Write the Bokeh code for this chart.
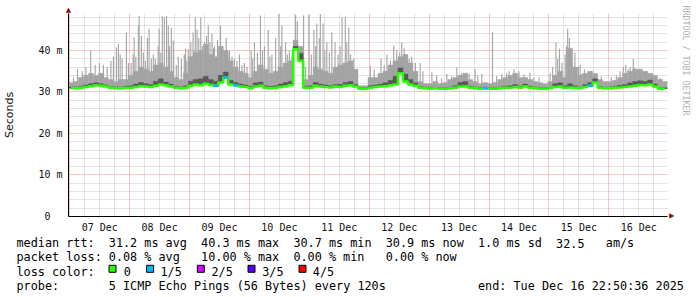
from bokeh.plotting import figure
from bokeh.models import Range1d, FixedTicker, Grid, Title
from bokeh.layouts import column
from bokeh.embed import file_html
from bokeh.resources import INLINE
from bokeh.core.properties import value

# ---------------- data (hours since 07 Dec 00:00, values in ms) ----------------
day_labels = ["07 Dec", "08 Dec", "09 Dec", "10 Dec", "11 Dec",
              "12 Dec", "13 Dec", "14 Dec", "15 Dec", "16 Dec"]
label_hours = [12, 36, 60, 84, 108, 132, 156, 180, 204, 228]
midnight_hours = [0, 24, 48, 72, 96, 120, 144, 168, 192, 216]

# 2-hour bins, bin centre = 2*j + 0.5
median_ms = [
    30.9, 30.9, 31.0, 31.2, 31.4, 31.6, 31.5, 31.3, 31.0, 30.9, 30.9, 31.0,   # 07 Dec
    31.0, 31.2, 31.4, 31.3, 31.2, 31.5, 31.8, 31.6, 31.3, 31.0, 30.9, 31.0,   # 08 Dec
    31.5, 31.8, 31.6, 32.0, 31.7, 31.5, 32.3, 33.5, 31.8, 31.6, 31.3, 31.2,   # 09 Dec
    30.9, 31.3, 31.5, 31.0, 30.9, 31.0, 31.2, 31.4, 31.6, 40.3, 37.5, 31.0,   # 10 Dec
    31.0, 31.5, 31.3, 31.2, 31.1, 31.3, 31.2, 31.5, 31.6, 31.3, 30.8, 30.8,   # 11 Dec
    31.0, 31.2, 31.3, 31.4, 31.6, 31.8, 34.5, 32.5, 31.8, 31.5, 31.0, 30.9,   # 12 Dec
    30.8, 30.9, 30.8, 30.8, 30.9, 31.0, 31.3, 31.4, 31.0, 30.9, 30.8, 30.9,   # 13 Dec
    30.8, 30.8, 30.9, 31.0, 31.0, 31.2, 31.0, 31.3, 31.0, 30.9, 30.8, 30.8,   # 14 Dec
    30.9, 31.2, 31.3, 31.0, 31.1, 31.0, 30.9, 31.2, 31.5, 32.3, 31.0, 30.9,   # 15 Dec
    30.9, 31.0, 31.1, 31.2, 31.3, 31.5, 31.7, 31.6, 31.8, 31.3, 30.8, 30.8,   # 16 Dec
]
smoke_dark_top = [
    31.2, 31.2, 31.4, 31.7, 32.0, 32.2, 32.0, 31.7, 31.3, 31.2, 31.2, 31.4,
    31.5, 31.9, 32.3, 32.0, 31.8, 32.6, 33.2, 32.4, 31.9, 31.4, 31.2, 31.5,
    32.6, 33.0, 33.2, 33.8, 33.0, 32.6, 34.0, 34.8, 32.8, 32.3, 31.9, 31.7,
    31.3, 32.2, 32.4, 31.5, 31.3, 31.5, 31.9, 32.3, 32.6, 41.0, 39.3, 31.4,
    31.5, 32.3, 31.9, 31.7, 31.5, 31.8, 31.8, 32.3, 32.5, 31.8, 31.0, 31.0,
    31.5, 31.7, 31.9, 32.2, 32.8, 33.8, 35.8, 34.3, 33.0, 32.2, 31.3, 31.2,
    31.0, 31.1, 31.0, 31.0, 31.2, 31.5, 32.3, 32.5, 31.4, 31.2, 31.0, 31.1,
    31.0, 31.0, 31.2, 31.4, 31.5, 31.8, 31.4, 31.9, 31.4, 31.2, 31.0, 31.0,
    31.1, 32.0, 32.2, 31.5, 32.0, 31.5, 31.2, 31.8, 32.3, 33.2, 31.3, 31.1,
    31.2, 31.4, 31.6, 31.8, 32.2, 32.5, 32.7, 32.5, 32.9, 31.9, 31.0, 31.0,
]
smoke_light_top = [
    32.3, 32.5, 33.5, 34.0, 34.5, 34.0, 34.5, 33.5, 33.0, 32.5, 33.0, 33.0,
    34.0, 35.0, 36.0, 35.5, 35.0, 36.5, 37.0, 36.0, 35.0, 33.5, 33.0, 34.5,
    38.5, 39.5, 40.0, 41.5, 39.0, 38.5, 41.0, 40.0, 37.5, 36.0, 35.0, 34.5,
    33.5, 35.0, 36.5, 35.5, 34.5, 35.0, 36.0, 37.0, 37.5, 42.5, 41.0, 33.0,
    34.0, 36.0, 35.5, 35.0, 34.5, 36.0, 36.5, 37.0, 37.5, 35.5, 31.5, 31.5,
    33.5, 33.5, 34.5, 35.0, 36.5, 37.5, 38.5, 39.0, 37.0, 35.0, 32.5, 32.0,
    32.0, 32.5, 32.0, 32.3, 33.0, 33.5, 34.0, 34.5, 33.0, 32.5, 32.0, 32.3,
    32.0, 32.3, 33.0, 33.5, 34.0, 34.5, 33.5, 33.5, 33.0, 32.5, 32.3, 32.0,
    32.5, 34.0, 35.0, 33.5, 40.5, 36.0, 34.0, 34.5, 35.0, 34.5, 33.0, 32.5,
    32.5, 32.8, 33.5, 34.5, 35.0, 35.5, 35.5, 35.0, 34.5, 34.0, 33.0, 32.5,
]
loss_count = [0] * 120          # lost pings out of 5, per bin
for j in (29, 31, 33, 83, 104):
    loss_count[j] = 1

# tall single-ping outliers
spike_hours = [
    3.1, 8.4, 11.9, 15.0, 18.7, 19.5, 21.0, 22.7,
    25.4, 25.8, 27.5, 27.8, 28.7, 31.1, 31.8, 32.7, 35.4, 35.8, 37.1, 37.9, 38.8, 39.5, 40.7, 41.5, 42.7, 44.7, 45.9, 46.4, 47.5,
    49.4, 50.3, 51.0, 52.5, 54.0, 55.5, 57.0, 58.0, 60.4, 62.7, 64.0, 66.0, 68.0, 70.0,
    72.7, 74.0, 76.4, 78.0, 79.5, 81.0, 82.5, 83.8, 85.0, 86.5, 88.0, 90.5, 91.2, 93.7, 95.8,
    97.8, 99.0, 100.4, 101.5, 103.0, 105.0, 106.3, 109.1, 110.4, 111.8, 113.8,
    120.4, 124.7, 127.1, 129.8, 131.0, 133.0, 135.0, 137.0, 140.4,
    145.1, 147.0, 151.1, 155.1, 159.0, 160.0, 162.4, 165.1,
    169.4, 173.1, 176.0, 178.0, 184.4, 186.0,
    193.5, 194.8, 196.2, 199.5, 200.2, 201.1, 202.4, 203.8, 205.1, 207.0,
    221.8, 223.8, 225.8, 227.0, 229.0, 230.4, 232.5, 235.0,
]
spike_ms = [
    35.5, 40.0, 37.0, 36.0, 40.7, 41.5, 38.0, 44.3,
    39.0, 43.2, 46.0, 48.3, 43.5, 43.0, 45.2, 38.0, 41.0, 45.2, 48.3, 48.0, 48.3, 46.0, 45.5, 42.4, 36.5, 38.0, 39.0, 40.4, 40.3,
    44.3, 48.0, 45.0, 48.0, 42.0, 46.0, 44.0, 41.0, 46.0, 43.0, 40.0, 38.0, 39.0, 37.0,
    40.0, 42.0, 48.4, 41.0, 45.0, 39.0, 43.0, 48.8, 46.0, 42.0, 40.0, 48.6, 47.0, 48.5, 48.6,
    45.0, 46.5, 48.8, 46.5, 42.0, 44.4, 42.0, 48.0, 48.0, 45.5, 38.0,
    36.3, 38.0, 39.0, 41.2, 40.0, 42.0, 39.0, 38.5, 37.0,
    34.7, 34.0, 34.3, 35.9, 34.5, 34.3, 35.5, 34.3,
    44.4, 34.3, 35.0, 35.5, 34.7, 33.5,
    36.0, 42.0, 40.4, 45.2, 43.0, 38.8, 39.5, 36.0, 34.3, 34.5,
    36.0, 35.5, 38.0, 35.0, 34.0, 34.7, 34.2, 33.3,
]
# shorter hairs on top of the smoke
hair_hours = [
    1.5, 5.0, 6.5, 10.2, 13.5, 16.5, 17.5, 20.2, 23.5,
    24.6, 26.5, 29.5, 30.3, 33.5, 34.3, 36.5, 40.0, 43.5, 46.9,
    48.5, 49.8, 51.7, 53.2, 54.8, 56.2, 57.6, 59.2, 61.2, 63.4, 65.0, 67.0, 69.0, 71.0,
    73.3, 75.2, 77.2, 80.2, 84.5, 87.2, 89.0, 94.5,
    96.8, 98.5, 100.0, 102.2, 104.0, 107.5, 108.3, 111.0, 112.5,
    122.0, 126.0, 128.5, 132.2, 134.0, 136.0, 138.5, 141.5,
    149.0, 153.0, 157.0, 163.5, 171.0, 175.0, 180.0, 182.0, 188.0,
    192.5, 195.5, 197.2, 198.5, 199.0, 200.8, 204.5, 206.2, 209.0, 211.0, 213.0,
    217.0, 219.0, 220.5, 222.8, 224.6, 226.4, 228.2, 231.2, 233.5, 236.5,
]
hair_ms = [
    33.5, 35.0, 36.0, 36.5, 36.5, 37.5, 38.5, 39.0, 37.0,
    37.0, 38.5, 39.5, 37.5, 39.0, 38.0, 39.5, 41.0, 38.5, 37.5,
    42.0, 40.0, 43.0, 41.0, 43.5, 42.0, 40.5, 42.5, 41.0, 39.0, 38.5, 37.5, 36.5, 36.0,
    38.0, 39.5, 40.0, 38.5, 41.0, 39.0, 38.5, 36.0,
    39.0, 41.0, 43.0, 40.0, 39.5, 39.0, 41.0, 42.0, 39.0,
    35.5, 36.5, 37.5, 39.5, 40.5, 38.0, 37.0, 35.0,
    33.3, 33.8, 34.5, 34.0, 33.8, 34.5, 35.0, 34.2, 33.5,
    34.5, 38.0, 37.0, 39.0, 41.0, 40.0, 36.5, 35.5, 35.0, 34.0, 33.8,
    33.5, 34.0, 35.0, 36.5, 36.0, 35.8, 35.5, 35.0, 34.5, 33.5,
]

y_ticks = [0, 10, 20, 30, 40]
y_tick_labels = ["0\u00a0\u00a0", "10 m", "20 m", "30 m", "40 m"]

loss_names = ["0", "1/5", "2/5", "3/5", "4/5"]
loss_colors = ["#26ff00", "#00b8ff", "#dd00ff", "#5500ff", "#ff0000"]

rtt_title = "median rtt:"
rtt_items = ["31.2 ms avg", "40.3 ms max", "30.7 ms min", "30.9 ms now", "1.0 ms sd", "32.5", "am/s"]
loss_title = "packet loss:"
loss_items = ["0.08 % avg", "10.00 % max", "0.00 % min", "0.00 % now"]
color_title = "loss color:"
probe_title = "probe:"
probe_text = "5 ICMP Echo Pings (56 Bytes) every 120s"
end_text = "end: Tue Dec 16 22:50:36 2025"
watermark = "RRDTOOL / TOBI OETIKER"

# ---------------- layout constants ----------------
X0, X1 = -0.5, 239.5
Y0, Y1 = 0.0, 48.9
MONO = "DejaVu Sans Mono"
LIGHT = "#a4a4a4"
DARK = "#585858"
ARROW = "#8b1010"

bin_centre = [2 * j + 0.5 for j in range(len(median_ms))]
bin_left = [c - 1 for c in bin_centre]
bin_right = [c + 1 for c in bin_centre]


def base_of(hours):
    return [median_ms[min(int((h + 0.5) // 2), 119)] for h in hours]


p = figure(width=697, height=236, x_range=Range1d(X0, X1), y_range=Range1d(Y0, Y1),
           output_backend="svg", toolbar_location=None,
           min_border_left=67, min_border_right=30, min_border_top=13, min_border_bottom=20,
           outline_line_color=None, background_fill_color="white", border_fill_color="white")
p.frame_align = False

# smoke
p.quad(left=bin_left, right=bin_right, bottom=median_ms, top=smoke_light_top,
       fill_color=LIGHT, line_color=LIGHT, line_width=0.4)
p.vbar(x=spike_hours, width=0.45, bottom=base_of(spike_hours), top=spike_ms,
       fill_color=LIGHT, line_color=None)
p.vbar(x=hair_hours, width=0.45, bottom=base_of(hair_hours), top=hair_ms,
       fill_color=LIGHT, line_color=None)
p.quad(left=bin_left, right=bin_right, bottom=median_ms, top=smoke_dark_top,
       fill_color=DARK, line_color=DARK, line_width=0.4)

# median line coloured by loss
p.step(x=bin_centre, y=median_ms, mode="center", line_color=loss_colors[0], line_width=2.5)
lx0 = [bin_left[j] for j in range(120) if loss_count[j] > 0]
lx1 = [bin_right[j] for j in range(120) if loss_count[j] > 0]
ly = [median_ms[j] for j in range(120) if loss_count[j] > 0]
lc = [loss_colors[loss_count[j]] for j in range(120) if loss_count[j] > 0]
p.segment(x0=lx0, x1=lx1, y0=ly, y1=ly, line_color=lc, line_width=2.5)

# axes
p.yaxis.ticker = FixedTicker(ticks=y_ticks,
                             minor_ticks=[v for v in range(2, 49, 2) if v % 10])
p.yaxis.major_label_overrides = dict(zip(y_ticks, y_tick_labels))
p.xaxis.ticker = FixedTicker(ticks=label_hours)
p.xaxis.major_label_overrides = dict(zip(label_hours, day_labels))
p.xaxis.bounds = (X0 - 2.0, X1)
for ax in (p.xaxis[0], p.yaxis[0]):
    ax.axis_line_color = "black"
    ax.axis_line_width = 1
    ax.major_tick_line_color = None
    ax.minor_tick_line_color = None
    ax.major_tick_in = 0
    ax.major_tick_out = 0
    ax.minor_tick_in = 0
    ax.minor_tick_out = 0
    ax.major_label_text_font = MONO
    ax.major_label_text_font_size = "10px"
    ax.major_label_text_color = "#111111"
p.yaxis.major_label_standoff = 6
p.xaxis.major_label_standoff = 5
p.yaxis.axis_label = "Seconds"
p.yaxis.axis_label_text_font = "DejaVu Sans"
p.yaxis.axis_label_text_font_size = "11px"
p.yaxis.axis_label_text_font_style = "normal"
p.yaxis.axis_label_text_color = "#111111"
p.yaxis.axis_label_standoff = 19

# grids
p.ygrid.grid_line_color = "#e89090"
p.ygrid.grid_line_dash = "1 1"
p.ygrid.minor_grid_line_color = "#c8c8c8"
p.ygrid.minor_grid_line_dash = "1 1"
p.xgrid.grid_line_color = None
xg = Grid(dimension=0,
          ticker=FixedTicker(ticks=midnight_hours,
                             minor_ticks=[h for h in range(6, 240, 6) if h % 24]),
          grid_line_color="#e89090", grid_line_dash="1 1",
          minor_grid_line_color="#c8c8c8", minor_grid_line_dash="1 1")
p.add_layout(xg)

# axis arrow heads and watermark in the side panels
p.add_layout(Title(text="\u25b2", align="left", offset=-2.7, standoff=0,
                   text_font="DejaVu Sans", text_font_size="7px",
                   text_font_style="normal", text_color=ARROW), "above")
p.add_layout(Title(text="\u25b2", align="right", offset=-2.2, standoff=0,
                   text_font="DejaVu Sans", text_font_size="7px",
                   text_font_style="normal", text_color=ARROW), "right")
p.add_layout(Title(text=watermark, align="left", offset=-8, standoff=6,
                   text_font=MONO, text_font_size="8.3px",
                   text_font_style="normal", text_color="#b0b0b0"), "right")

# ---------------- legend panel (monospace character grid) ----------------
p2 = figure(width=697, height=61, x_range=Range1d(0, 697), y_range=Range1d(61, 0),
            output_backend="svg", toolbar_location=None,
            x_axis_location=None, y_axis_location=None, min_border=0,
            outline_line_color=None, background_fill_color="white", border_fill_color="white")
p2.frame_align = False
p2.grid.visible = False

CW = 7.1          # character cell width in px
FS = "11.8px"
LX = 16


def col(c):
    return LX + c * CW


tx = ([col(c) for c in (0, 13, 26, 39, 52, 65, 76, 83)]
      + [col(c) for c in (0, 13, 26, 39, 52)]
      + [col(0), 123.3, 160, 211, 261.7, 312.3]
      + [col(c) for c in (0, 13, 65)])
ty = ([6.6] * 8 + [20.9] * 5 + [35.2] * 6 + [49.4] * 3)
tt = ([rtt_title] + rtt_items + [loss_title] + loss_items
      + [color_title] + loss_names + [probe_title, probe_text, end_text])
p2.text(x=tx, y=ty, text=tt, text_font=value(MONO), text_font_size=FS,
        text_baseline="alphabetic", text_align="left", text_color="black")
p2.rect(x=[112, 149.6, 200.3, 251, 302], y=[32.3] * 5, width=7, height=7,
        fill_color=loss_colors, line_color="black", line_width=1)

layout = column(p, p2, spacing=0)
open("out.html", "w").write(file_html(layout, INLINE))
